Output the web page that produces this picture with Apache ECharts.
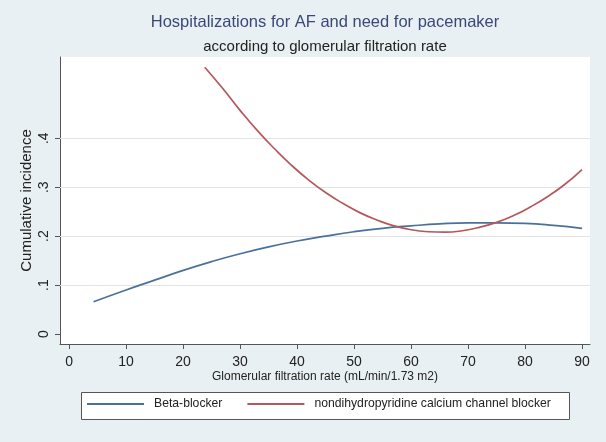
<!DOCTYPE html>
<html>
<head>
<meta charset="utf-8">
<script src="https://cdn.jsdelivr.net/npm/echarts@6/dist/echarts.min.js"></script>
<style>
html,body{margin:0;padding:0;background:#e9f0f3;}
#chart{width:606px;height:442px;}
</style>
</head>
<body>
<div id="chart"></div>
<script>
// ---- data ----
const titleText = 'Hospitalizations for AF and need for pacemaker';
const subtitleText = 'according to glomerular filtration rate';
const xAxisTitle = 'Glomerular filtration rate (mL/min/1.73 m2)';
const yAxisTitle = 'Cumulative incidence';
const seriesNames = ['Beta-blocker', 'nondihydropyridine calcium channel blocker'];

const xTicks = [0, 10, 20, 30, 40, 50, 60, 70, 80, 90];
const yTicks = [0, 0.1, 0.2, 0.3, 0.4];
const yGridLines = [0.1, 0.2, 0.3, 0.4];

const betaX = [4.3, 10, 15, 20, 25, 30, 35, 40, 45, 50, 55, 60, 65, 70, 75, 80, 85, 90];
const betaY = [0.066, 0.090, 0.110, 0.130, 0.148, 0.164, 0.178, 0.190, 0.200, 0.209, 0.216, 0.221, 0.225, 0.227, 0.227, 0.226, 0.222, 0.216];

const ccbX = [23.8, 27, 30, 33, 36, 39, 42, 45, 48, 51, 54, 57, 60, 63, 66, 69, 72, 75, 78, 81, 84, 87, 90];
const ccbY = [0.545, 0.501, 0.457, 0.416, 0.379, 0.345, 0.315, 0.289, 0.267, 0.248, 0.233, 0.221, 0.213, 0.209, 0.208, 0.211, 0.218, 0.228, 0.242, 0.260, 0.281, 0.306, 0.336];

// ---- chart ----
const FONT = '"Liberation Sans", Arial, Helvetica, sans-serif';
const BLUE = '#4a719a';
const RED = '#b5585c';
const chart = echarts.init(document.getElementById('chart'), null, {renderer: 'canvas'});

const zip = (xs, ys) => xs.map((x, i) => [x, ys[i]]);
const yFmt = v => {
  const r = Math.round(v * 10) / 10;
  return r === 0 ? '0' : String(r).replace(/^0\./, '.');
};

chart.setOption({
  backgroundColor: '#e9f0f3',
  animation: false,
  textStyle: {fontFamily: FONT},
  title: [
    {text: titleText, left: 325, top: 14, textAlign: 'center', padding: 0,
     textStyle: {fontFamily: FONT, fontSize: 16.5, fontWeight: 'normal', color: '#3a4878'}},
    {text: subtitleText, left: 325, top: 39, textAlign: 'center', padding: 0,
     textStyle: {fontFamily: FONT, fontSize: 15, fontWeight: 'normal', color: '#222'}}
  ],
  graphic: [
    {type: 'rect', left: 81, top: 392, z: 0, silent: true,
     shape: {width: 488, height: 27},
     style: {fill: '#ffffff', stroke: '#555555', lineWidth: 1}}
  ],
  legend: {
    left: 87, top: 398, padding: 0,
    itemGap: 25, itemWidth: 57, itemHeight: 2, icon: 'rect',
    textStyle: {fontFamily: FONT, fontSize: 12.2, color: '#222', padding: [0, 0, 0, 5]},
    data: seriesNames
  },
  grid: {left: 60, right: 16, top: 57, bottom: 98, show: true,
         backgroundColor: '#ffffff', borderWidth: 0},
  xAxis: {
    type: 'value', min: -1.6, max: 91.4,
    name: xAxisTitle, nameLocation: 'middle', nameGap: 27, nameMoveOverlap: false,
    nameTextStyle: {fontFamily: FONT, fontSize: 12, color: '#222'},
    axisLine: {show: true, onZero: false, lineStyle: {color: '#555', width: 1}},
    axisTick: {show: true, length: 5, customValues: xTicks, lineStyle: {color: '#555'}},
    axisLabel: {customValues: xTicks, margin: 11, fontSize: 14, color: '#222', fontFamily: FONT},
    splitLine: {show: false}
  },
  yAxis: {
    type: 'value', min: -0.0204, max: 0.566,
    name: yAxisTitle, nameLocation: 'middle', nameGap: 26, nameMoveOverlap: false,
    nameTextStyle: {fontFamily: FONT, fontSize: 15, color: '#222'},
    axisLine: {show: true, onZero: false, lineStyle: {color: '#555', width: 1}},
    axisTick: {show: true, length: 5, customValues: yTicks, lineStyle: {color: '#555'}},
    axisLabel: {customValues: yTicks, rotate: 90, margin: 9, fontSize: 14, color: '#222',
                fontFamily: FONT, formatter: yFmt},
    splitLine: {show: false}
  },
  series: [
    {
      name: 'grid', type: 'line', data: [], z: 1, silent: true,
      markLine: {
        z: 1, silent: true, symbol: ['none', 'none'], label: {show: false},
        lineStyle: {color: '#e4e4e4', width: 1.2, type: 'solid'},
        emphasis: {disabled: true},
        data: yGridLines.map(v => ({yAxis: v}))
      }
    },
    {
      name: seriesNames[0], type: 'line', smooth: true,
      showSymbol: false, symbol: 'none',
      data: zip(betaX, betaY), z: 3,
      lineStyle: {color: BLUE, width: 1.7}, itemStyle: {color: BLUE}
    },
    {
      name: seriesNames[1], type: 'line', smooth: true,
      showSymbol: false, symbol: 'none',
      data: zip(ccbX, ccbY), z: 4,
      lineStyle: {color: RED, width: 1.7}, itemStyle: {color: RED}
    }
  ]
});
</script>
</body>
</html>
